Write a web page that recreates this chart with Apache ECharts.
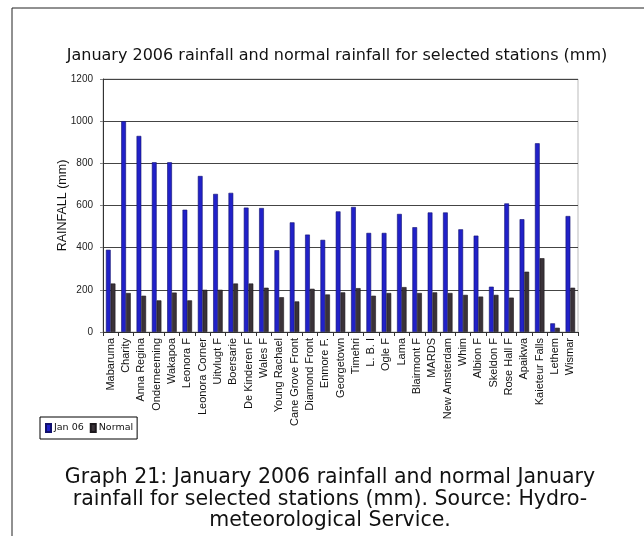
<!DOCTYPE html>
<html>
<head>
<meta charset="utf-8">
<script src="https://cdn.jsdelivr.net/npm/echarts@6/dist/echarts.min.js"></script>
<style>html,body{margin:0;padding:0;background:#fff;}#c{width:644px;height:536px;}</style>
</head>
<body>
<div id="c"></div>
<script>
const stations = ["Mabaruma","Charity","Anna Regina","Onderneeming","Wakapoa","Leonora F","Leonora Corner","Uitvlugt F","Boersarie","De Kinderen F","Wales F","Young Rachael","Cane Grove Front","Diamond Front","Enmore F.","Georgetown","Timehri","L. B. I","Ogle F","Lama","Blairmont F","MARDS","New Amsterdam","Whim","Albion F","Skeldon F","Rose Hall F","Apaikwa","Kaieteur Falls","Lethem","Wismar"];
const jan06 = [390,1000,930,805,805,580,740,655,660,590,588,388,520,462,437,572,593,470,470,560,497,567,567,487,457,215,610,535,895,41,550];
const normal = [230,185,172,150,187,150,200,200,230,230,210,165,145,205,178,188,208,172,185,213,185,188,185,176,168,176,163,286,350,20,210];
const yTicks = {min:0, max:1200, interval:200};

const chart = echarts.init(document.getElementById('c'));
chart.setOption({
  animation:false,
  backgroundColor:'#fff',
  title:{
    text:'January 2006 rainfall and normal rainfall for selected stations (mm)',
    left:332, top:43, textAlign:'center',
    textStyle:{fontFamily:'DejaVu Sans', fontSize:16, fontWeight:'normal', color:'#111'}
  },
  legend:{
    left:40, top:417,
    data:['Jan 06','Normal'],
    icon:'rect',
    itemWidth:5, itemHeight:8, itemGap:6,
    padding:[6,4,6,5],
    borderColor:'#000', borderWidth:1,
    textStyle:{fontFamily:'DejaVu Sans', fontSize:9.5, color:'#111', padding:[0,0,0,-2]}
  },
  grid:{left:103, right:66, top:79, bottom:204, show:true, borderColor:'#bbb', borderWidth:1},
  xAxis:{
    type:'category', data:stations,
    axisLine:{lineStyle:{color:'#333'}},
    axisTick:{show:true, length:4, lineStyle:{color:'#333'}},
    axisLabel:{rotate:90, interval:0, fontFamily:'Liberation Sans', fontSize:11, color:'#111', margin:6}
  },
  yAxis:{
    type:'value', min:yTicks.min, max:yTicks.max, interval:yTicks.interval,
    name:'RAINFALL (mm)', nameLocation:'middle', nameGap:34, nameMoveOverlap:false,
    nameTextStyle:{fontFamily:'Liberation Sans', fontSize:12.5, color:'#111'},
    axisLine:{show:true, lineStyle:{color:'#333'}},
    axisTick:{show:true, length:3, lineStyle:{color:'#888'}},
    axisLabel:{formatter:function(v){return String(v);}, fontFamily:'Liberation Sans Narrow, Liberation Sans', fontSize:10, color:'#222', margin:10},
    splitLine:{lineStyle:{color:'#444', width:1}}
  },
  series:[
    {name:'Jan 06', type:'bar', data:jan06, barGap:'0%', barCategoryGap:'38%',
     itemStyle:{color:'#2121c8', borderColor:'#10106e', borderWidth:0.6}},
    {name:'Normal', type:'bar', data:normal,
     itemStyle:{color:'#3a3238', borderColor:'#1c181c', borderWidth:0.6}}
  ],
  graphic:[
    {type:'line', shape:{x1:12, y1:8, x2:644, y2:8}, style:{stroke:'#222', lineWidth:1}},
    {type:'line', shape:{x1:12, y1:8, x2:12, y2:536}, style:{stroke:'#222', lineWidth:1}},
    {type:'text', x:330, y:467, style:{
      text:'Graph 21: January 2006 rainfall and normal January\nrainfall for selected stations (mm). Source: Hydro-\nmeteorological Service.',
      align:'center', verticalAlign:'top', fontFamily:'DejaVu Sans', fontSize:20.5, lineHeight:21.5, fill:'#111'}}
  ]
});
</script>
</body>
</html>
